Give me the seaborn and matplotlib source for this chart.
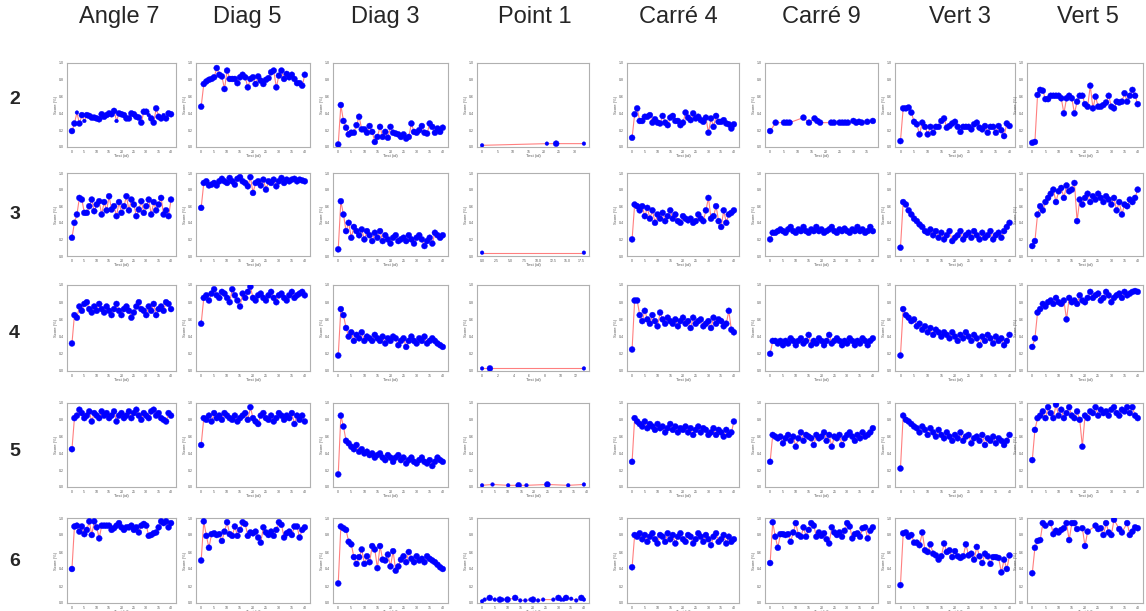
import matplotlib
matplotlib.use("Agg")
import matplotlib.pyplot as plt
import seaborn as sns
import pandas as pd

# ------------------ DATA ------------------
columns = ["Angle 7", "Diag 5", "Diag 3", "Point 1", "Carré 4", "Carré 9", "Vert 3", "Vert 5"]
rows = ["2", "3", "4", "5", "6"]

# row 2
angle7_2 = [0.19, 0.28, 0.41, 0.28, 0.38, 0.31, 0.38, 0.37, 0.35, 0.35, 0.34, 0.33, 0.39, 0.36, 0.38, 0.40, 0.39, 0.43, 0.31, 0.40, 0.39,
            0.38, 0.34, 0.34, 0.40, 0.39, 0.36, 0.35, 0.29, 0.42, 0.42, 0.38, 0.34, 0.29, 0.46, 0.36, 0.34, 0.38, 0.34, 0.40, 0.39]
diag5_2 = [0.48, 0.75, 0.78, 0.80, 0.81, 0.83, 0.94, 0.86, 0.84, 0.69, 0.91, 0.81, 0.81, 0.81, 0.76, 0.83, 0.86, 0.83, 0.71, 0.81, 0.83,
           0.75, 0.84, 0.79, 0.75, 0.80, 0.82, 0.89, 0.91, 0.71, 0.85, 0.91, 0.81, 0.87, 0.83, 0.86, 0.81, 0.76, 0.76, 0.73, 0.86]
diag3_2 = [0.03, 0.50, 0.31, 0.23, 0.15, 0.17, 0.17, 0.26, 0.36, 0.21, 0.21, 0.17, 0.25, 0.18, 0.06, 0.12, 0.24, 0.12, 0.18, 0.11, 0.24,
           0.17, 0.16, 0.15, 0.12, 0.15, 0.10, 0.12, 0.28, 0.18, 0.17, 0.20, 0.25, 0.17, 0.16, 0.28, 0.24, 0.17, 0.22, 0.18, 0.23]
point1_2_x = [0, 21, 24, 33]
point1_2 = [0.02, 0.04, 0.04, 0.04]
carre4_2 = [0.11, 0.39, 0.46, 0.31, 0.31, 0.36, 0.36, 0.38, 0.29, 0.33, 0.29, 0.28, 0.37, 0.29, 0.26, 0.35, 0.37, 0.31, 0.31, 0.26, 0.29,
            0.41, 0.35, 0.32, 0.40, 0.34, 0.36, 0.32, 0.30, 0.35, 0.17, 0.34, 0.24, 0.37, 0.30, 0.30, 0.32, 0.28, 0.27, 0.22, 0.27]
carre9_2_x = [0, 2, 5, 6, 7, 12, 14, 16, 17, 18, 22, 23, 25, 26, 27, 28, 30, 31, 32, 33, 35, 37]
carre9_2 = [0.19, 0.29, 0.29, 0.29, 0.29, 0.35, 0.29, 0.34, 0.31, 0.29, 0.29, 0.29, 0.29, 0.29, 0.29, 0.29, 0.31, 0.29, 0.30, 0.29, 0.30, 0.31]
vert3_2 = [0.07, 0.46, 0.46, 0.47, 0.41, 0.30, 0.27, 0.15, 0.29, 0.24, 0.15, 0.24, 0.17, 0.24, 0.24, 0.31, 0.34, 0.23, 0.25, 0.28, 0.30,
           0.24, 0.18, 0.24, 0.24, 0.24, 0.21, 0.27, 0.29, 0.23, 0.21, 0.25, 0.17, 0.24, 0.24, 0.17, 0.25, 0.20, 0.13, 0.28, 0.25]
vert5_2 = [0.05, 0.06, 0.62, 0.68, 0.67, 0.57, 0.57, 0.61, 0.61, 0.61, 0.61, 0.58, 0.40, 0.58, 0.61, 0.58, 0.40, 0.54, 0.61, 0.61, 0.51,
           0.48, 0.73, 0.46, 0.60, 0.48, 0.48, 0.50, 0.53, 0.61, 0.48, 0.46, 0.54, 0.53, 0.54, 0.64, 0.54, 0.61, 0.68, 0.61, 0.51]

# row 3
angle7_3 = [0.22, 0.40, 0.50, 0.70, 0.68, 0.52, 0.52, 0.60, 0.68, 0.54, 0.62, 0.66, 0.50, 0.65, 0.55, 0.72, 0.56, 0.60, 0.48, 0.65, 0.52,
            0.60, 0.72, 0.55, 0.68, 0.62, 0.48, 0.56, 0.66, 0.52, 0.60, 0.68, 0.50, 0.65, 0.55, 0.62, 0.70, 0.50, 0.55, 0.48, 0.68]
diag5_3 = [0.58, 0.88, 0.90, 0.85, 0.86, 0.88, 0.85, 0.90, 0.93, 0.90, 0.88, 0.94, 0.90, 0.86, 0.93, 0.95, 0.90, 0.88, 0.84, 0.95, 0.76,
           0.88, 0.90, 0.85, 0.92, 0.80, 0.90, 0.88, 0.92, 0.84, 0.90, 0.94, 0.88, 0.92, 0.90, 0.92, 0.93, 0.90, 0.92, 0.91, 0.90]
diag3_3 = [0.08, 0.66, 0.50, 0.30, 0.40, 0.22, 0.35, 0.30, 0.25, 0.32, 0.20, 0.30, 0.25, 0.18, 0.28, 0.22, 0.30, 0.18, 0.25, 0.20, 0.15,
           0.22, 0.25, 0.18, 0.20, 0.22, 0.18, 0.25, 0.20, 0.15, 0.22, 0.25, 0.20, 0.12, 0.18, 0.22, 0.15, 0.28, 0.25, 0.22, 0.25]
point1_3_x = [0, 18]
point1_3 = [0.04, 0.04]
carre4_3 = [0.20, 0.62, 0.60, 0.55, 0.60, 0.48, 0.58, 0.45, 0.55, 0.40, 0.50, 0.45, 0.52, 0.42, 0.48, 0.55, 0.45, 0.50, 0.42, 0.40, 0.48,
            0.45, 0.43, 0.45, 0.40, 0.42, 0.50, 0.45, 0.42, 0.55, 0.70, 0.45, 0.48, 0.60, 0.42, 0.35, 0.55, 0.40, 0.50, 0.52, 0.55]
carre9_3 = [0.20, 0.28, 0.28, 0.30, 0.32, 0.30, 0.28, 0.32, 0.35, 0.30, 0.28, 0.32, 0.30, 0.35, 0.30, 0.28, 0.32, 0.30, 0.35, 0.30, 0.32,
            0.28, 0.30, 0.32, 0.35, 0.30, 0.28, 0.32, 0.30, 0.33, 0.30, 0.28, 0.32, 0.30, 0.35, 0.30, 0.32, 0.28, 0.30, 0.35, 0.30]
vert3_3 = [0.10, 0.65, 0.62, 0.55, 0.50, 0.45, 0.42, 0.38, 0.35, 0.30, 0.28, 0.32, 0.25, 0.30, 0.22, 0.28, 0.20, 0.25, 0.30, 0.18, 0.22,
           0.25, 0.30, 0.20, 0.25, 0.28, 0.22, 0.30, 0.25, 0.20, 0.28, 0.22, 0.25, 0.30, 0.20, 0.25, 0.28, 0.22, 0.30, 0.35, 0.40]
vert5_3 = [0.12, 0.18, 0.50, 0.60, 0.55, 0.65, 0.70, 0.75, 0.80, 0.65, 0.78, 0.82, 0.70, 0.85, 0.78, 0.80, 0.88, 0.42, 0.68, 0.62, 0.70,
           0.75, 0.65, 0.72, 0.68, 0.75, 0.70, 0.65, 0.72, 0.68, 0.62, 0.70, 0.55, 0.65, 0.50, 0.62, 0.60, 0.68, 0.65, 0.70, 0.80]

# row 4
angle7_4 = [0.32, 0.65, 0.62, 0.75, 0.70, 0.78, 0.80, 0.72, 0.68, 0.75, 0.70, 0.78, 0.72, 0.68, 0.75, 0.70, 0.65, 0.72, 0.78, 0.70, 0.65,
            0.72, 0.75, 0.70, 0.62, 0.68, 0.75, 0.80, 0.72, 0.70, 0.65, 0.75, 0.70, 0.78, 0.65, 0.72, 0.75, 0.70, 0.80, 0.78, 0.72]
diag5_4 = [0.55, 0.85, 0.88, 0.82, 0.90, 0.95, 0.88, 0.85, 0.92, 0.90, 0.85, 0.80, 0.95, 0.88, 0.82, 0.75, 0.90, 0.85, 0.92, 0.98, 0.85,
           0.82, 0.88, 0.90, 0.85, 0.82, 0.88, 0.92, 0.85, 0.80, 0.88, 0.90, 0.85, 0.82, 0.88, 0.92, 0.85, 0.88, 0.90, 0.92, 0.88]
diag3_4 = [0.18, 0.72, 0.65, 0.50, 0.40, 0.45, 0.35, 0.42, 0.38, 0.45, 0.35, 0.40, 0.38, 0.35, 0.42, 0.38, 0.35, 0.40, 0.32, 0.38, 0.35,
           0.40, 0.38, 0.30, 0.35, 0.38, 0.28, 0.35, 0.40, 0.35, 0.32, 0.38, 0.35, 0.40, 0.32, 0.35, 0.38, 0.35, 0.32, 0.30, 0.28]
point1_4_x = [0, 1, 13]
point1_4 = [0.03, 0.03, 0.03]
carre4_4 = [0.25, 0.82, 0.82, 0.65, 0.58, 0.70, 0.60, 0.55, 0.65, 0.58, 0.52, 0.68, 0.60, 0.55, 0.62, 0.58, 0.55, 0.60, 0.52, 0.58, 0.62,
            0.55, 0.58, 0.50, 0.62, 0.55, 0.58, 0.60, 0.52, 0.55, 0.58, 0.50, 0.62, 0.55, 0.60, 0.58, 0.52, 0.55, 0.70, 0.48, 0.45]
carre9_4 = [0.20, 0.35, 0.35, 0.32, 0.35, 0.30, 0.35, 0.32, 0.38, 0.35, 0.30, 0.35, 0.38, 0.32, 0.35, 0.42, 0.30, 0.35, 0.32, 0.38, 0.35,
            0.30, 0.35, 0.42, 0.32, 0.35, 0.38, 0.35, 0.30, 0.35, 0.32, 0.38, 0.35, 0.30, 0.35, 0.32, 0.38, 0.35, 0.30, 0.35, 0.38]
vert3_4 = [0.18, 0.72, 0.65, 0.62, 0.58, 0.60, 0.52, 0.55, 0.48, 0.52, 0.45, 0.50, 0.42, 0.48, 0.45, 0.40, 0.45, 0.42, 0.38, 0.45, 0.40,
           0.35, 0.42, 0.38, 0.45, 0.40, 0.35, 0.42, 0.38, 0.30, 0.40, 0.35, 0.42, 0.38, 0.32, 0.40, 0.35, 0.38, 0.30, 0.35, 0.42]
vert5_4 = [0.28, 0.38, 0.68, 0.72, 0.78, 0.75, 0.80, 0.82, 0.78, 0.85, 0.80, 0.78, 0.82, 0.60, 0.85, 0.80, 0.82, 0.78, 0.88, 0.82, 0.80,
           0.85, 0.92, 0.85, 0.88, 0.90, 0.82, 0.85, 0.92, 0.88, 0.80, 0.85, 0.88, 0.90, 0.85, 0.92, 0.88, 0.90, 0.92, 0.93, 0.92]

# row 5
angle7_5 = [0.45, 0.82, 0.85, 0.92, 0.88, 0.82, 0.85, 0.90, 0.78, 0.88, 0.85, 0.82, 0.90, 0.85, 0.88, 0.82, 0.85, 0.90, 0.78, 0.85, 0.88,
            0.82, 0.85, 0.90, 0.82, 0.88, 0.92, 0.85, 0.80, 0.88, 0.85, 0.82, 0.90, 0.92, 0.85, 0.88, 0.82, 0.80, 0.78, 0.88, 0.85]
diag5_5 = [0.50, 0.82, 0.80, 0.85, 0.78, 0.88, 0.82, 0.85, 0.80, 0.88, 0.85, 0.82, 0.80, 0.85, 0.78, 0.82, 0.85, 0.88, 0.80, 0.95, 0.82,
           0.78, 0.75, 0.85, 0.88, 0.82, 0.80, 0.85, 0.78, 0.82, 0.88, 0.85, 0.80, 0.85, 0.82, 0.88, 0.75, 0.85, 0.80, 0.85, 0.78]
diag3_5 = [0.15, 0.85, 0.72, 0.55, 0.52, 0.48, 0.45, 0.50, 0.42, 0.45, 0.40, 0.42, 0.38, 0.40, 0.35, 0.38, 0.40, 0.35, 0.32, 0.38, 0.35,
           0.30, 0.35, 0.38, 0.32, 0.35, 0.28, 0.32, 0.35, 0.30, 0.28, 0.32, 0.35, 0.30, 0.28, 0.32, 0.25, 0.30, 0.35, 0.32, 0.30]
point1_5_x = [0, 4, 10, 14, 17, 25, 33, 39]
point1_5 = [0.02, 0.03, 0.02, 0.02, 0.02, 0.03, 0.02, 0.03]
carre4_5 = [0.30, 0.82, 0.78, 0.75, 0.72, 0.78, 0.70, 0.75, 0.72, 0.68, 0.75, 0.70, 0.72, 0.65, 0.70, 0.75, 0.68, 0.72, 0.65, 0.70, 0.68,
            0.72, 0.65, 0.70, 0.62, 0.68, 0.72, 0.65, 0.70, 0.68, 0.62, 0.65, 0.70, 0.62, 0.68, 0.65, 0.60, 0.68, 0.62, 0.65, 0.78]
carre9_5 = [0.30, 0.62, 0.60, 0.58, 0.60, 0.52, 0.58, 0.62, 0.55, 0.60, 0.48, 0.58, 0.65, 0.55, 0.62, 0.60, 0.58, 0.50, 0.62, 0.58, 0.60,
            0.65, 0.55, 0.62, 0.48, 0.60, 0.58, 0.62, 0.50, 0.58, 0.62, 0.65, 0.60, 0.55, 0.62, 0.58, 0.65, 0.60, 0.62, 0.65, 0.70]
vert3_5 = [0.22, 0.85, 0.80, 0.78, 0.75, 0.72, 0.70, 0.65, 0.72, 0.68, 0.62, 0.70, 0.65, 0.60, 0.68, 0.62, 0.58, 0.65, 0.60, 0.55, 0.62,
           0.58, 0.65, 0.55, 0.60, 0.62, 0.52, 0.58, 0.60, 0.55, 0.62, 0.50, 0.58, 0.55, 0.60, 0.52, 0.58, 0.55, 0.50, 0.55, 0.62]
vert5_5 = [0.32, 0.68, 0.82, 0.85, 0.90, 0.82, 0.95, 0.88, 0.82, 0.98, 0.85, 0.92, 0.82, 0.88, 0.95, 0.85, 0.82, 0.90, 0.80, 0.48, 0.85,
           0.82, 0.90, 0.88, 0.95, 0.85, 0.92, 0.88, 0.90, 0.85, 0.92, 0.95, 0.88, 0.85, 0.92, 0.90, 0.95, 0.88, 0.95, 0.85, 0.82]

# row 6
angle7_6 = [0.40, 0.90, 0.91, 0.84, 0.90, 0.81, 0.86, 0.96, 0.80, 0.96, 0.89, 0.76, 0.91, 0.91, 0.91, 0.91, 0.86, 0.88, 0.91, 0.94, 0.89,
            0.86, 0.89, 0.89, 0.91, 0.86, 0.89, 0.83, 0.91, 0.93, 0.91, 0.79, 0.80, 0.82, 0.83, 0.89, 0.96, 0.94, 0.96, 0.89, 0.94]
diag5_6 = [0.50, 0.96, 0.79, 0.65, 0.81, 0.82, 0.80, 0.81, 0.73, 0.84, 0.95, 0.81, 0.79, 0.90, 0.79, 0.86, 0.95, 0.93, 0.79, 0.83, 0.82,
           0.84, 0.77, 0.71, 0.89, 0.83, 0.80, 0.84, 0.79, 0.86, 0.95, 0.92, 0.77, 0.82, 0.84, 0.80, 0.90, 0.90, 0.77, 0.86, 0.89]
diag3_6 = [0.23, 0.90, 0.88, 0.86, 0.72, 0.69, 0.54, 0.46, 0.54, 0.63, 0.46, 0.55, 0.48, 0.67, 0.63, 0.41, 0.67, 0.51, 0.50, 0.57, 0.43,
           0.61, 0.38, 0.43, 0.51, 0.55, 0.48, 0.60, 0.52, 0.48, 0.55, 0.50, 0.52, 0.48, 0.55, 0.52, 0.50, 0.48, 0.45, 0.42, 0.40]
point1_6_x = [0, 1, 3, 5, 7, 8, 10, 13, 15, 17, 19, 20, 22, 24, 28, 30, 31, 32, 33, 35, 37, 39, 40]
point1_6 = [0.02, 0.04, 0.06, 0.04, 0.04, 0.04, 0.04, 0.06, 0.03, 0.03, 0.04, 0.04, 0.03, 0.04, 0.04, 0.06, 0.04, 0.04, 0.06, 0.05, 0.03, 0.06, 0.04]
carre4_6 = [0.42, 0.80, 0.78, 0.82, 0.75, 0.80, 0.72, 0.78, 0.82, 0.75, 0.70, 0.80, 0.78, 0.72, 0.82, 0.75, 0.80, 0.70, 0.78, 0.82, 0.75,
            0.72, 0.80, 0.78, 0.70, 0.75, 0.82, 0.78, 0.72, 0.80, 0.75, 0.68, 0.78, 0.82, 0.72, 0.75, 0.80, 0.70, 0.78, 0.72, 0.75]
carre9_6 = [0.47, 0.95, 0.78, 0.65, 0.81, 0.81, 0.80, 0.81, 0.72, 0.83, 0.94, 0.80, 0.78, 0.89, 0.78, 0.86, 0.94, 0.91, 0.78, 0.83, 0.79,
            0.82, 0.75, 0.70, 0.89, 0.83, 0.80, 0.83, 0.78, 0.85, 0.94, 0.90, 0.76, 0.81, 0.82, 0.78, 0.88, 0.89, 0.76, 0.85, 0.89]
vert3_6 = [0.21, 0.82, 0.83, 0.78, 0.80, 0.71, 0.71, 0.68, 0.83, 0.62, 0.60, 0.69, 0.58, 0.56, 0.51, 0.55, 0.70, 0.60, 0.62, 0.54, 0.61,
           0.55, 0.53, 0.55, 0.69, 0.56, 0.58, 0.51, 0.66, 0.55, 0.47, 0.58, 0.55, 0.46, 0.54, 0.54, 0.53, 0.36, 0.51, 0.40, 0.56]
vert5_6_x = [0, 1, 2, 3, 4, 5, 7, 8, 9, 10, 11, 12, 13, 14, 15, 16, 17, 19, 20, 21, 24, 25, 26, 27, 28, 29, 30, 31, 33, 34, 36, 37, 38, 39, 40]
vert5_6 = [0.35, 0.65, 0.73, 0.74, 0.94, 0.91, 0.94, 0.81, 0.85, 0.83, 0.86, 0.88, 0.94, 0.74, 0.94, 0.94, 0.87, 0.88, 0.67, 0.84,
           0.91, 0.87, 0.88, 0.80, 0.94, 0.83, 0.80, 0.98, 0.87, 0.83, 0.94, 0.80, 0.84, 0.89, 0.88]

# test ids drawn with a small marker (the others are big)
small_ids = {
    (0, 0): [2, 5, 18, 31, 37],
    (0, 3): [0, 21, 33],
    (1, 3): [0, 18],
    (2, 3): [0, 13],
    (3, 3): [0, 4, 10, 17, 33, 39],
    (4, 3): [0, 1, 5, 8, 15, 17, 19, 22, 24, 28, 31, 32, 35, 37, 40],
}

# y lists per row and column, x given only where ids are not 0..n-1
grid_y = [
    [angle7_2, diag5_2, diag3_2, point1_2, carre4_2, carre9_2, vert3_2, vert5_2],
    [angle7_3, diag5_3, diag3_3, point1_3, carre4_3, carre9_3, vert3_3, vert5_3],
    [angle7_4, diag5_4, diag3_4, point1_4, carre4_4, carre9_4, vert3_4, vert5_4],
    [angle7_5, diag5_5, diag3_5, point1_5, carre4_5, carre9_5, vert3_5, vert5_5],
    [angle7_6, diag5_6, diag3_6, point1_6, carre4_6, carre9_6, vert3_6, vert5_6],
]
grid_x = {(0, 3): point1_2_x, (0, 5): carre9_2_x, (1, 3): point1_3_x, (2, 3): point1_4_x,
          (3, 3): point1_5_x, (4, 3): point1_6_x, (4, 7): vert5_6_x}

# ------------------ LAYOUT (pixels) ------------------
W, H = 1146, 611
col_left = [67, 196, 333, 477, 627, 765, 895, 1027]
col_right = [176, 310, 448, 589, 739, 878, 1015, 1143]
row_top = [63, 173, 285, 403, 518]
row_bottom = [147, 256, 371, 487, 603]
title_x = [119, 247, 385, 535, 678, 821, 960, 1088]
label_y = [100, 215, 333, 451, 561]

sns.set_theme(style="white")
plt.rcParams['font.family'] = ['Liberation Sans', 'DejaVu Sans']

fig = plt.figure(figsize=(W / 100, H / 100), dpi=100)

for r in range(len(rows)):
    for c in range(len(columns)):
        y = grid_y[r][c]
        x = grid_x.get((r, c), list(range(len(y))))
        small = small_ids.get((r, c), [])
        df = pd.DataFrame({"Test": x, "Score": y})
        df["kind"] = ["small" if t in small else "big" for t in x]
        ax = fig.add_axes([col_left[c] / W, 1 - row_bottom[r] / H,
                           (col_right[c] - col_left[c]) / W, (row_bottom[r] - row_top[r]) / H])
        sns.lineplot(data=df, x="Test", y="Score", ax=ax, color="red", alpha=0.5, linewidth=0.8, sort=False)
        sns.scatterplot(data=df, x="Test", y="Score", size="kind", sizes={"big": 18, "small": 7},
                        ax=ax, color="blue", edgecolor="blue", linewidth=0.3, zorder=3, legend=False)
        ax.set_ylim(0, 1)
        ax.set_yticks([0, 0.2, 0.4, 0.6, 0.8, 1.0])
        ax.set_xlabel("Test (id)", fontsize=3, labelpad=0.5, color="#555555")
        ax.set_ylabel("Score (%)", fontsize=3, labelpad=1, color="#555555")
        ax.tick_params(labelsize=2.5, length=1, width=0.3, pad=1, colors="#555555")
        for sp in ax.spines.values():
            sp.set_color("#b0b0b0")
            sp.set_linewidth(0.8)

for c, name in enumerate(columns):
    fig.text(title_x[c] / W, 1 - 17 / H, name, ha="center", va="center", fontsize=17)
for r, name in enumerate(rows):
    fig.text(14.5 / W, 1 - label_y[r] / H, name, ha="center", va="center", fontsize=14, fontweight="bold")

fig.savefig("out.png", dpi=100)
